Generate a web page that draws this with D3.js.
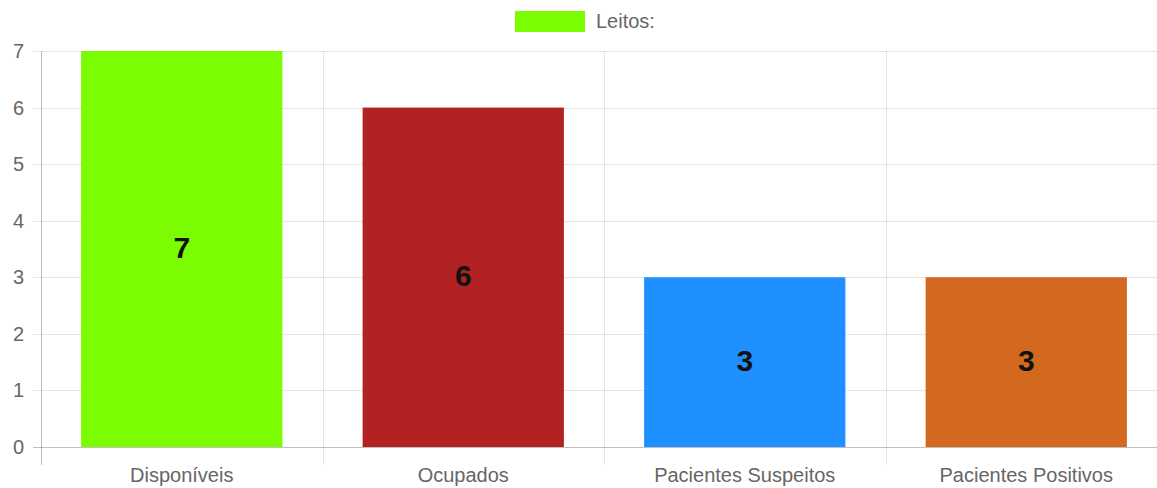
<!DOCTYPE html>
<html>
<head>
<meta charset="utf-8">
<script src="https://cdn.jsdelivr.net/npm/d3@7"></script>
<style>
  body { margin: 0; background: #fff; }
  text { font-family: "Liberation Sans", Arial, sans-serif; }
</style>
</head>
<body>
<div id="chartLeitos"></div>
<script>
// data
var categories = ["Disponíveis", "Ocupados", "Pacientes Suspeitos", "Pacientes Positivos"];
var values = [7, 6, 3, 3];
var barColors = ["#7CFC00", "#B22222", "#1E90FF", "#D2691E"];
var yTicks = [0, 1, 2, 3, 4, 5, 6, 7];
var legendLabel = "Leitos:";

var width = 1157, height = 488;
var plotLeft = 41, plotRight = 1167, plotTop = 51, plotBottom = 447;

var svg = d3.select("#chartLeitos").append("svg")
    .attr("width", width)
    .attr("height", height);

// scales
var x_scale = d3.scaleBand().domain(categories).range([plotLeft, plotRight]).padding(0);
var y_scale = d3.scaleLinear().domain([0, 7]).range([plotBottom, plotTop]);

// horizontal grid lines (with tick marks going left)
svg.append("g").selectAll("line")
    .data(yTicks)
    .enter()
    .append("line")
    .attr("x1", plotLeft - 8)
    .attr("x2", plotRight)
    .attr("y1", function (d) { return Math.round(y_scale(d)) + 0.5; })
    .attr("y2", function (d) { return Math.round(y_scale(d)) + 0.5; })
    .style("stroke", function (d) { return d == 0 ? "rgba(0,0,0,0.25)" : "rgba(0,0,0,0.1)"; })
    .style("stroke-width", 1);

// vertical grid lines between categories
var xLines = categories.map(function (c) { return x_scale(c); }).concat([plotRight]);
svg.append("g").selectAll("line")
    .data(xLines)
    .enter()
    .append("line")
    .attr("x1", function (d) { return Math.round(d) + 0.5; })
    .attr("x2", function (d) { return Math.round(d) + 0.5; })
    .attr("y1", plotTop)
    .attr("y2", plotBottom + 18)
    .style("stroke", function (d, i) { return i == 0 ? "rgba(0,0,0,0.25)" : "rgba(0,0,0,0.1)"; })
    .style("stroke-width", 1);

// bars
var barW = x_scale.bandwidth() * 0.715;
svg.append("g").selectAll("rect")
    .data(values)
    .enter()
    .append("rect")
    .attr("x", function (d, i) { return x_scale(categories[i]) + (x_scale.bandwidth() - barW) / 2; })
    .attr("y", function (d) { return y_scale(d); })
    .attr("width", barW)
    .attr("height", function (d) { return y_scale(0) - y_scale(d); })
    .style("fill", function (d, i) { return barColors[i]; });

// value labels inside bars
svg.append("g").selectAll("text")
    .data(values)
    .enter()
    .append("text")
    .attr("x", function (d, i) { return x_scale(categories[i]) + x_scale.bandwidth() / 2; })
    .attr("y", function (d) { return (y_scale(d) + y_scale(0)) / 2 - 2; })
    .attr("text-anchor", "middle")
    .attr("dominant-baseline", "central")
    .style("font-size", "30px")
    .style("font-weight", "bold")
    .style("fill", "#111")
    .text(function (d) { return d; });

// y tick labels
svg.append("g").selectAll("text")
    .data(yTicks)
    .enter()
    .append("text")
    .attr("x", 24)
    .attr("y", function (d) { return y_scale(d); })
    .attr("text-anchor", "end")
    .attr("dominant-baseline", "central")
    .style("font-size", "20px")
    .style("fill", "#666")
    .text(function (d) { return d; });

// x category labels
svg.append("g").selectAll("text")
    .data(categories)
    .enter()
    .append("text")
    .attr("x", function (d) { return x_scale(d) + x_scale.bandwidth() / 2; })
    .attr("y", 475)
    .attr("text-anchor", "middle")
    .attr("dominant-baseline", "central")
    .style("font-size", "20px")
    .style("fill", "#666")
    .text(function (d) { return d; });

// legend
svg.append("rect")
    .attr("x", 515).attr("y", 11)
    .attr("width", 70).attr("height", 21)
    .style("fill", barColors[0]);
svg.append("text")
    .attr("x", 596).attr("y", 21)
    .attr("dominant-baseline", "central")
    .style("font-size", "20px")
    .style("fill", "#666")
    .text(legendLabel);
</script>
</body>
</html>
